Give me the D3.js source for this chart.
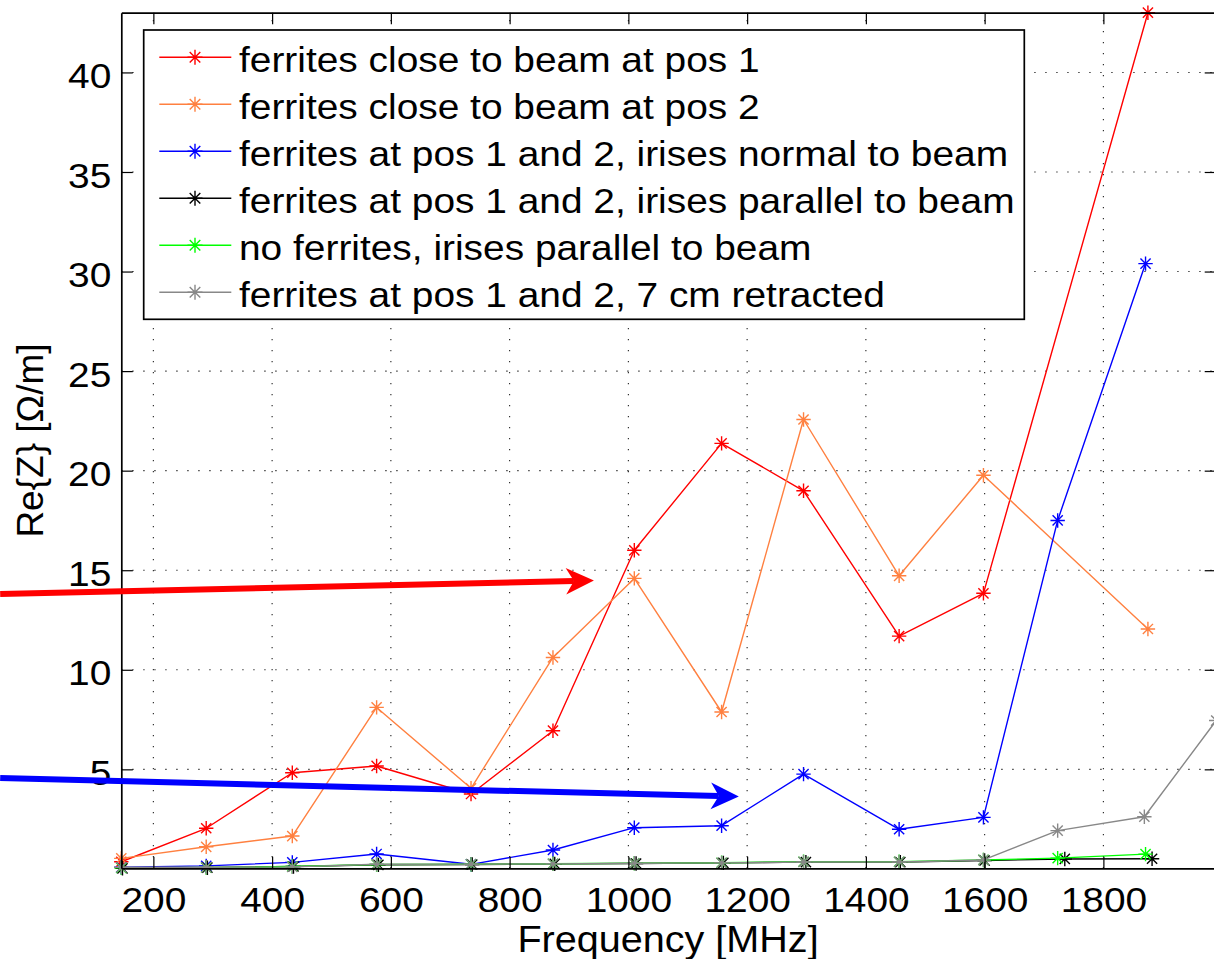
<!DOCTYPE html>
<html>
<head>
<meta charset="utf-8">
<script src="https://cdn.jsdelivr.net/npm/d3@7"></script>
<style>
  html, body { margin: 0; padding: 0; background: #fff; overflow: hidden; }
  svg { display: block; font-family: "Liberation Sans", Arial, sans-serif; }
</style>
</head>
<body>
<div id="chart"></div>
<script>
// frequencies [MHz] for each measurement set
const freqClose = [146, 289, 434, 576, 735, 873, 1010, 1157, 1295, 1456, 1598, 1875];
const freqIris = [146, 289, 434, 576, 735, 873, 1010, 1157, 1295, 1456, 1598, 1723, 1871];
const freqIrisParallel = [148, 291, 436, 579, 737, 876, 1013, 1160, 1299, 1458, 1600, 1735, 1882];
const freqRetracted = [146, 289, 434, 576, 735, 873, 1010, 1157, 1295, 1456, 1598, 1723, 1869, 1990];

// Re{Z} [Ohm/m]
const closePos1 = [0.36, 2.04, 4.83, 5.17, 3.76, 6.94, 16.0, 21.37, 18.99, 11.69, 13.84, 43.0];
const closePos2 = [0.53, 1.11, 1.65, 8.11, 4.05, 10.62, 14.59, 7.88, 22.57, 14.72, 19.77, 12.05];
const irisNormal = [0.08, 0.15, 0.33, 0.75, 0.23, 0.95, 2.07, 2.17, 4.76, 1.99, 2.59, 17.5, 30.4];
const irisParallel = [0.03, 0.06, 0.12, 0.2, 0.22, 0.25, 0.27, 0.3, 0.34, 0.34, 0.42, 0.5, 0.51];
const noFerrites = [0.05, 0.07, 0.12, 0.22, 0.23, 0.26, 0.28, 0.31, 0.36, 0.36, 0.45, 0.54, 0.74];
const retracted = [0.08, 0.08, 0.1, 0.23, 0.24, 0.25, 0.28, 0.3, 0.35, 0.35, 0.45, 1.92, 2.62, 7.45];

const seriesNames = [
    'ferrites close to beam at pos 1',
    'ferrites close to beam at pos 2',
    'ferrites at pos 1 and 2, irises normal to beam',
    'ferrites at pos 1 and 2, irises parallel to beam',
    'no ferrites, irises parallel to beam',
    'ferrites at pos 1 and 2, 7 cm retracted'
];
const seriesFreqs = [freqClose, freqClose, freqIris, freqIrisParallel, freqIris, freqRetracted];
const seriesValues = [closePos1, closePos2, irisNormal, irisParallel, noFerrites, retracted];
const seriesColors = ['#ff0000', '#ff8040', '#0000ff', '#000000', '#00ff00', '#888888'];

const xTicks = [200, 400, 600, 800, 1000, 1200, 1400, 1600, 1800];
const yTicks = [5, 10, 15, 20, 25, 30, 35, 40];

// annotation arrows (start / end in data units)
const arrowFreqs = [[-58, 942], [-58, 1186]];
const arrowValues = [[13.8, 14.48], [4.56, 3.63]];
const arrowColors = ['#ff0000', '#0000ff'];

class ImpedanceChart {
    constructor(selector) {
        this.config = {
            width: 1214,
            height: 959,
            left: 121.3,
            right: 1216.2,
            top: 12.7,
            bottom: 868.3,
            fontSize: 36,
            stretch: 1.08,   // glyphs in the original are a bit wider than Arial
            markerR: 7.2
        };
        this.svg = d3.select(selector).append('svg')
            .attr('width', this.config.width)
            .attr('height', this.config.height);

        this.x = d3.scaleLinear().domain([146, 1990]).range([this.config.left, this.config.right]);
        this.y = d3.scaleLinear().domain([0.03, 43]).range([this.config.bottom, this.config.top]);
    }

    render() {
        this.svg.append('rect')
            .attr('width', this.config.width).attr('height', this.config.height)
            .attr('fill', '#fff');
        this.renderGrid();
        this.renderSeries();
        this.renderAxes();
        this.renderArrows();
        this.renderLegend();
        this.renderLabels();
    }

    renderGrid() {
        const c = this.config;
        const g = this.svg.append('g').attr('class', 'grid')
            .attr('stroke', '#222').attr('stroke-width', 1.1)
            .attr('stroke-dasharray', '1.3,9.7');

        g.selectAll('line.v').data(xTicks).enter().append('line')
            .attr('x1', d => this.x(d)).attr('x2', d => this.x(d))
            .attr('y1', c.bottom).attr('y2', c.top);

        g.selectAll('line.h').data(yTicks).enter().append('line')
            .attr('y1', d => this.y(d)).attr('y2', d => this.y(d))
            .attr('x1', c.left).attr('x2', c.right);
    }

    asterisk(sel, r) {
        const d = r * Math.SQRT1_2;
        sel.append('path')
            .attr('d', `M${-r},0H${r}M0,${-r}V${r}M${-d},${-d}L${d},${d}M${-d},${d}L${d},${-d}`);
    }

    renderSeries() {
        const line = d3.line().x(d => this.x(d[0])).y(d => this.y(d[1]));

        seriesValues.forEach((values, i) => {
            const pts = values.map((v, j) => [seriesFreqs[i][j], v]);
            const g = this.svg.append('g')
                .attr('stroke', seriesColors[i]).attr('fill', 'none');

            g.append('path').datum(pts)
                .attr('d', line)
                .attr('stroke-width', 1.4)
                .attr('stroke-linejoin', 'round');

            g.selectAll('g.marker').data(pts).enter().append('g')
                .attr('class', 'marker')
                .attr('stroke-width', 1.4)
                .attr('transform', d => `translate(${this.x(d[0])},${this.y(d[1])})`)
                .call(sel => this.asterisk(sel, this.config.markerR));
        });
    }

    renderAxes() {
        const c = this.config;
        const tick = 11.5;
        const fmt = d3.format('d');

        const styleAxis = (g) => {
            g.select('.domain').attr('stroke', '#000').attr('stroke-width', 1.7);
            g.selectAll('.tick line').attr('stroke', '#000').attr('stroke-width', 1.2);
        };

        this.svg.append('g')
            .attr('transform', `translate(0,${c.bottom})`)
            .call(d3.axisBottom(this.x).tickValues(xTicks).tickFormat(fmt)
                .tickSizeInner(-tick).tickSizeOuter(0).tickPadding(18))
            .call(styleAxis)
            .call(g => g.selectAll('text')
                .attr('font-size', c.fontSize)
                .attr('font-family', '"Liberation Sans", Arial, sans-serif')
                .attr('fill', '#000')
                .attr('transform', `scale(${c.stretch},1)`));

        this.svg.append('g')
            .attr('transform', `translate(${c.left},0)`)
            .call(d3.axisLeft(this.y).tickValues(yTicks).tickFormat(fmt)
                .tickSizeInner(-tick).tickSizeOuter(0).tickPadding(10))
            .call(styleAxis)
            .call(g => g.selectAll('text')
                .attr('font-size', c.fontSize)
                .attr('font-family', '"Liberation Sans", Arial, sans-serif')
                .attr('fill', '#000')
                .attr('x', -10 / c.stretch)
                .attr('dy', '0.42em')
                .attr('transform', `scale(${c.stretch},1)`));

        // box with mirrored ticks
        this.svg.append('g')
            .attr('transform', `translate(0,${c.top})`)
            .call(d3.axisTop(this.x).tickValues(xTicks).tickSizeInner(-tick).tickSizeOuter(0).tickFormat(''))
            .call(styleAxis);

        this.svg.append('g')
            .attr('transform', `translate(${c.right},0)`)
            .call(d3.axisRight(this.y).tickValues(yTicks).tickSizeInner(-tick).tickSizeOuter(0).tickFormat(''))
            .call(styleAxis);
    }

    renderArrows() {
        const headLen = 28, headHalf = 13.3, notch = 20;

        arrowFreqs.forEach((fs, i) => {
            const x0 = this.x(fs[0]), y0 = this.y(arrowValues[i][0]);
            const x1 = this.x(fs[1]), y1 = this.y(arrowValues[i][1]);
            const len = Math.hypot(x1 - x0, y1 - y0);
            const ux = (x1 - x0) / len, uy = (y1 - y0) / len;
            const px = -uy, py = ux;

            const bx = x1 - ux * headLen, by = y1 - uy * headLen;
            const nx = x1 - ux * notch, ny = y1 - uy * notch;

            this.svg.append('line')
                .attr('x1', x0).attr('y1', y0)
                .attr('x2', nx).attr('y2', ny)
                .attr('stroke', arrowColors[i])
                .attr('stroke-width', 6);

            this.svg.append('path')
                .attr('d', `M${x1},${y1}L${bx + px * headHalf},${by + py * headHalf}` +
                    `L${nx},${ny}L${bx - px * headHalf},${by - py * headHalf}Z`)
                .attr('fill', arrowColors[i]);
        });
    }

    renderLegend() {
        const c = this.config;
        const box = { x: 143.7, y: 30, w: 880.6, h: 289.3 };
        const rowY = i => 57.3 + i * 47;

        const g = this.svg.append('g').attr('class', 'legend');
        g.append('rect')
            .attr('x', box.x).attr('y', box.y)
            .attr('width', box.w).attr('height', box.h)
            .attr('fill', '#fff').attr('stroke', '#000').attr('stroke-width', 1.7);

        const rows = g.selectAll('g.row').data(seriesNames).enter().append('g')
            .attr('class', 'row')
            .attr('transform', (d, i) => `translate(0,${rowY(i)})`);

        rows.append('line')
            .attr('x1', 159.3).attr('x2', 231.3)
            .attr('stroke', (d, i) => seriesColors[i])
            .attr('stroke-width', 1.4);

        rows.append('g')
            .attr('transform', 'translate(195,0)')
            .attr('stroke', (d, i) => seriesColors[i])
            .attr('stroke-width', 1.4)
            .attr('fill', 'none')
            .each((d, i, nodes) => this.asterisk(d3.select(nodes[i]), 7.5));

        rows.append('text')
            .attr('transform', `translate(239,14.4) scale(${c.stretch},1)`)
            .attr('font-size', c.fontSize)
            .attr('fill', '#000')
            .text(d => d);
    }

    renderLabels() {
        const c = this.config;

        this.svg.append('text')
            .attr('transform', `translate(668,951.5) scale(1.07,1)`)
            .attr('text-anchor', 'middle')
            .attr('font-size', 37)
            .attr('fill', '#000')
            .text('Frequency [MHz]');

        this.svg.append('text')
            .attr('transform', `translate(43,${(c.top + c.bottom) / 2}) rotate(-90)`)
            .attr('text-anchor', 'middle')
            .attr('font-size', 37)
            .attr('fill', '#000')
            .text('Re{Z} [Ω/m]');
    }
}

new ImpedanceChart('#chart').render();
</script>
</body>
</html>
